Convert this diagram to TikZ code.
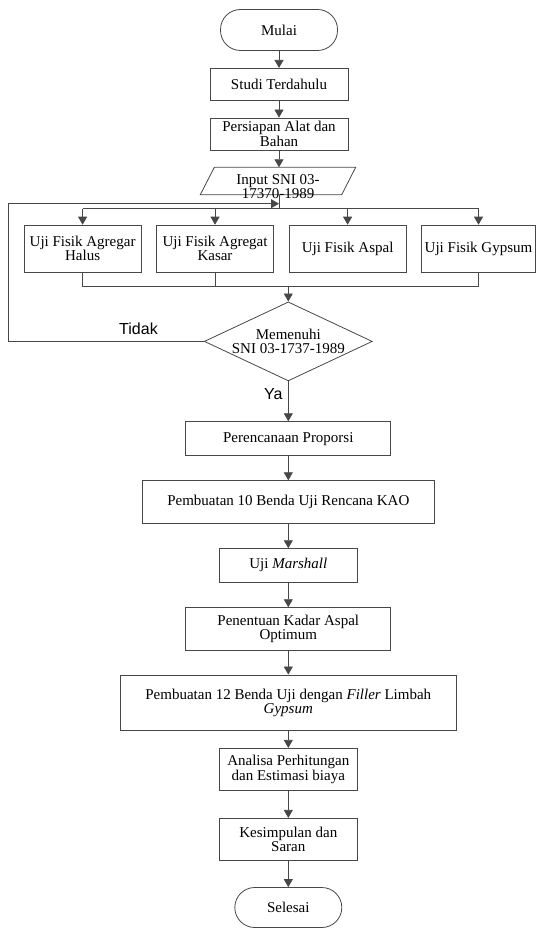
\documentclass[tikz,border=0pt]{standalone}
\usepackage{fontspec}
\setmainfont{Liberation Serif}
\newfontfamily\lblfont{Liberation Sans}
\usetikzlibrary{arrows.meta,shapes.geometric}

\begin{document}
\begin{tikzpicture}[x=1pt,y=-1pt,
font=\fontsize{15}{14.5}\selectfont,
every node/.style={align=center},
line/.style={draw=black!72,line width=0.8pt},
box/.style={line,rectangle,inner sep=2pt},
term/.style={line,rectangle,rounded corners=20pt,inner sep=2pt},
cek/.style={line,diamond,aspect=2.13,inner sep=-3pt,minimum width=168,minimum height=79},
arr/.style={line,-{Triangle[length=8pt,width=9pt]}},
lbl/.style={font=\lblfont\fontsize{16}{16}\selectfont}]
\useasboundingbox (0,0) rectangle (536,928);
\node[term,minimum width=117,minimum height=41] (mulai) at (279,30) {Mulai};
\node[box,minimum width=138,minimum height=32] (studi) at (279,84.3) {Studi Terdahulu};
\node[box,minimum width=138,minimum height=32] (persiapan) at (279,134) {Persiapan Alat dan\\Bahan};
\node[minimum width=141,minimum height=27,inner sep=0pt] (input) at (278,181) {};
\draw[line] ([xshift=7]input.north west) -- ([xshift=7]input.north east)
  -- ([xshift=-7]input.south east) -- ([xshift=-7]input.south west) -- cycle;
\node (inputtxt) at (278,186.5) {Input SNI 03-\\17370-1989};
\coordinate (split) at (279,208.8);
\coordinate (loop) at (279,203.7);
\node[box,minimum width=117,minimum height=47] (uji1) at (82.6,248.6) {Uji Fisik Agregar\\Halus};
\node[box,minimum width=117,minimum height=47] (uji2) at (215,248.6) {Uji Fisik Agregat\\Kasar};
\node[box,minimum width=117,minimum height=47] (uji3) at (347.6,248.6) {Uji Fisik Aspal};
\node[box,minimum width=114,minimum height=47] (uji4) at (478.5,248.6) {Uji Fisik Gypsum};
\coordinate (merge) at (288.3,286.4);
\node[cek] (memenuhi) at (288.3,341.4) {Memenuhi\\SNI 03-1737-1989};
\node[lbl] (tidak) at (138.5,329) {Tidak};
\node[lbl,anchor=east] (ya) at (286,394) {Ya};
\node[box,minimum width=205,minimum height=34] (proporsi) at (288.3,438.7) {Perencanaan Proporsi};
\node[box,minimum width=292,minimum height=42.6] (benda10) at (288.3,502) {Pembuatan 10 Benda Uji Rencana KAO};
\node[box,minimum width=138,minimum height=33.3] (marshall) at (288.3,565.3) {Uji \textit{Marshall}};
\node[box,minimum width=205,minimum height=42.3] (kao) at (288.3,628.8) {Penentuan Kadar Aspal\\Optimum};
\node[box,minimum width=336.7,minimum height=55.7] (benda12) at (288.3,702.8) {Pembuatan 12 Benda Uji dengan \textit{Filler} Limbah\\\textit{Gypsum}};
\node[box,minimum width=138,minimum height=42.4] (analisa) at (288.3,769.5) {Analisa Perhitungan\\dan Estimasi biaya};
\node[box,minimum width=138,minimum height=42.4] (saran) at (288.3,839.5) {Kesimpulan dan\\Saran};
\node[term,minimum width=107,minimum height=40] (selesai) at (288.3,907.5) {Selesai};
\draw[arr] (mulai) -- (studi);
\draw[arr] (studi) -- (persiapan);
\draw[arr] (persiapan) -- (persiapan |- input.north);
\draw[line] (split |- input.south) -- (split);
\draw[line] (split -| uji1) -- (split -| uji4);
\draw[arr] (split -| uji1) -- (uji1);
\draw[arr] (split -| uji2) -- (uji2);
\draw[arr] (split -| uji3) -- (uji3);
\draw[arr] (split -| uji4) -- (uji4);
\draw[line] (uji1) |- (merge) -| (uji4);
\draw[line] (uji2) -- (uji2 |- merge);
\draw[arr] (merge) -- (memenuhi);
\draw[arr] (memenuhi.west) -- ++(-195.5,0) |- (loop);
\draw[arr] (memenuhi) -- (proporsi);
\draw[arr] (proporsi) -- (benda10);
\draw[arr] (benda10) -- (marshall);
\draw[arr] (marshall) -- (kao);
\draw[arr] (kao) -- (benda12);
\draw[arr] (benda12) -- (analisa);
\draw[arr] (analisa) -- (saran);
\draw[arr] (saran) -- (selesai);
\end{tikzpicture}
\end{document}
